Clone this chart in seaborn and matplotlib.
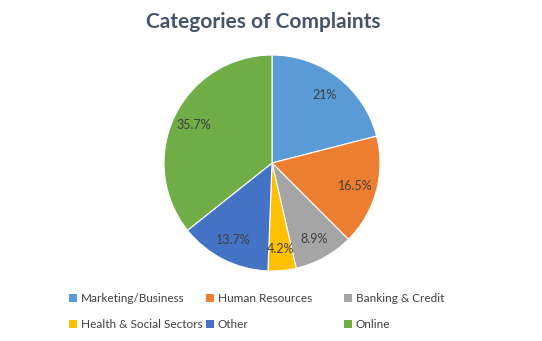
import matplotlib
matplotlib.use("Agg")
import matplotlib.pyplot as plt
import seaborn as sns
import numpy as np
from matplotlib.patches import Patch

sns.set_theme(style="white")
plt.rcParams['font.family'] = ['Lato', 'DejaVu Sans']

categories = ["Marketing/Business", "Human Resources", "Banking & Credit",
              "Health & Social Sectors", "Other", "Online"]
values = [21.0, 16.5, 8.9, 4.2, 13.7, 35.7]
labels = ["21%", "16.5%", "8.9%", "4.2%", "13.7%", "35.7%"]
colors = ["#5B9BD5", "#ED7D31", "#A5A5A5", "#FFC000", "#4472C4", "#70AD47"]

fig = plt.figure(figsize=(5.42, 3.41), dpi=100)
ax = fig.add_axes([(272 - 108) / 542, 1 - (163 + 108) / 341, 216 / 542, 216 / 341])

wedges, texts = ax.pie(values, colors=colors, startangle=90, counterclock=False,
                       wedgeprops=dict(edgecolor="white", linewidth=0.8))
for w, lab in zip(wedges, labels):
    ang = np.deg2rad((w.theta1 + w.theta2) / 2)
    ax.text(0.8 * np.cos(ang), 0.8 * np.sin(ang), lab, ha="center", va="center",
            fontsize=9, color="#404040")
ax.set_aspect("equal")
ax.set_xlim(-1.0, 1.0)
ax.set_ylim(-1.0, 1.0)

fig.text(263 / 542, 1 - 22 / 341, "Categories of Complaints", ha="center", va="center",
         fontsize=15, fontweight="bold", color="#44546A")

# legend in three columns (row-major order as in the reference)
col_x = [69, 206, 344]
for c, x in enumerate(col_x):
    idx = [c, c + 3]
    handles = [Patch(facecolor=colors[i], edgecolor="none") for i in idx]
    leg = fig.legend(handles, [categories[i] for i in idx], loc="upper left",
                     bbox_to_anchor=(x / 542, 1 - 293 / 341), frameon=False,
                     fontsize=8.5, handlelength=0.7, handleheight=0.7,
                     handletextpad=0.3, labelspacing=1.3, borderpad=0,
                     borderaxespad=0)
    for t in leg.get_texts():
        t.set_color("#404040")

fig.savefig("out.png", dpi=100, facecolor="white")
